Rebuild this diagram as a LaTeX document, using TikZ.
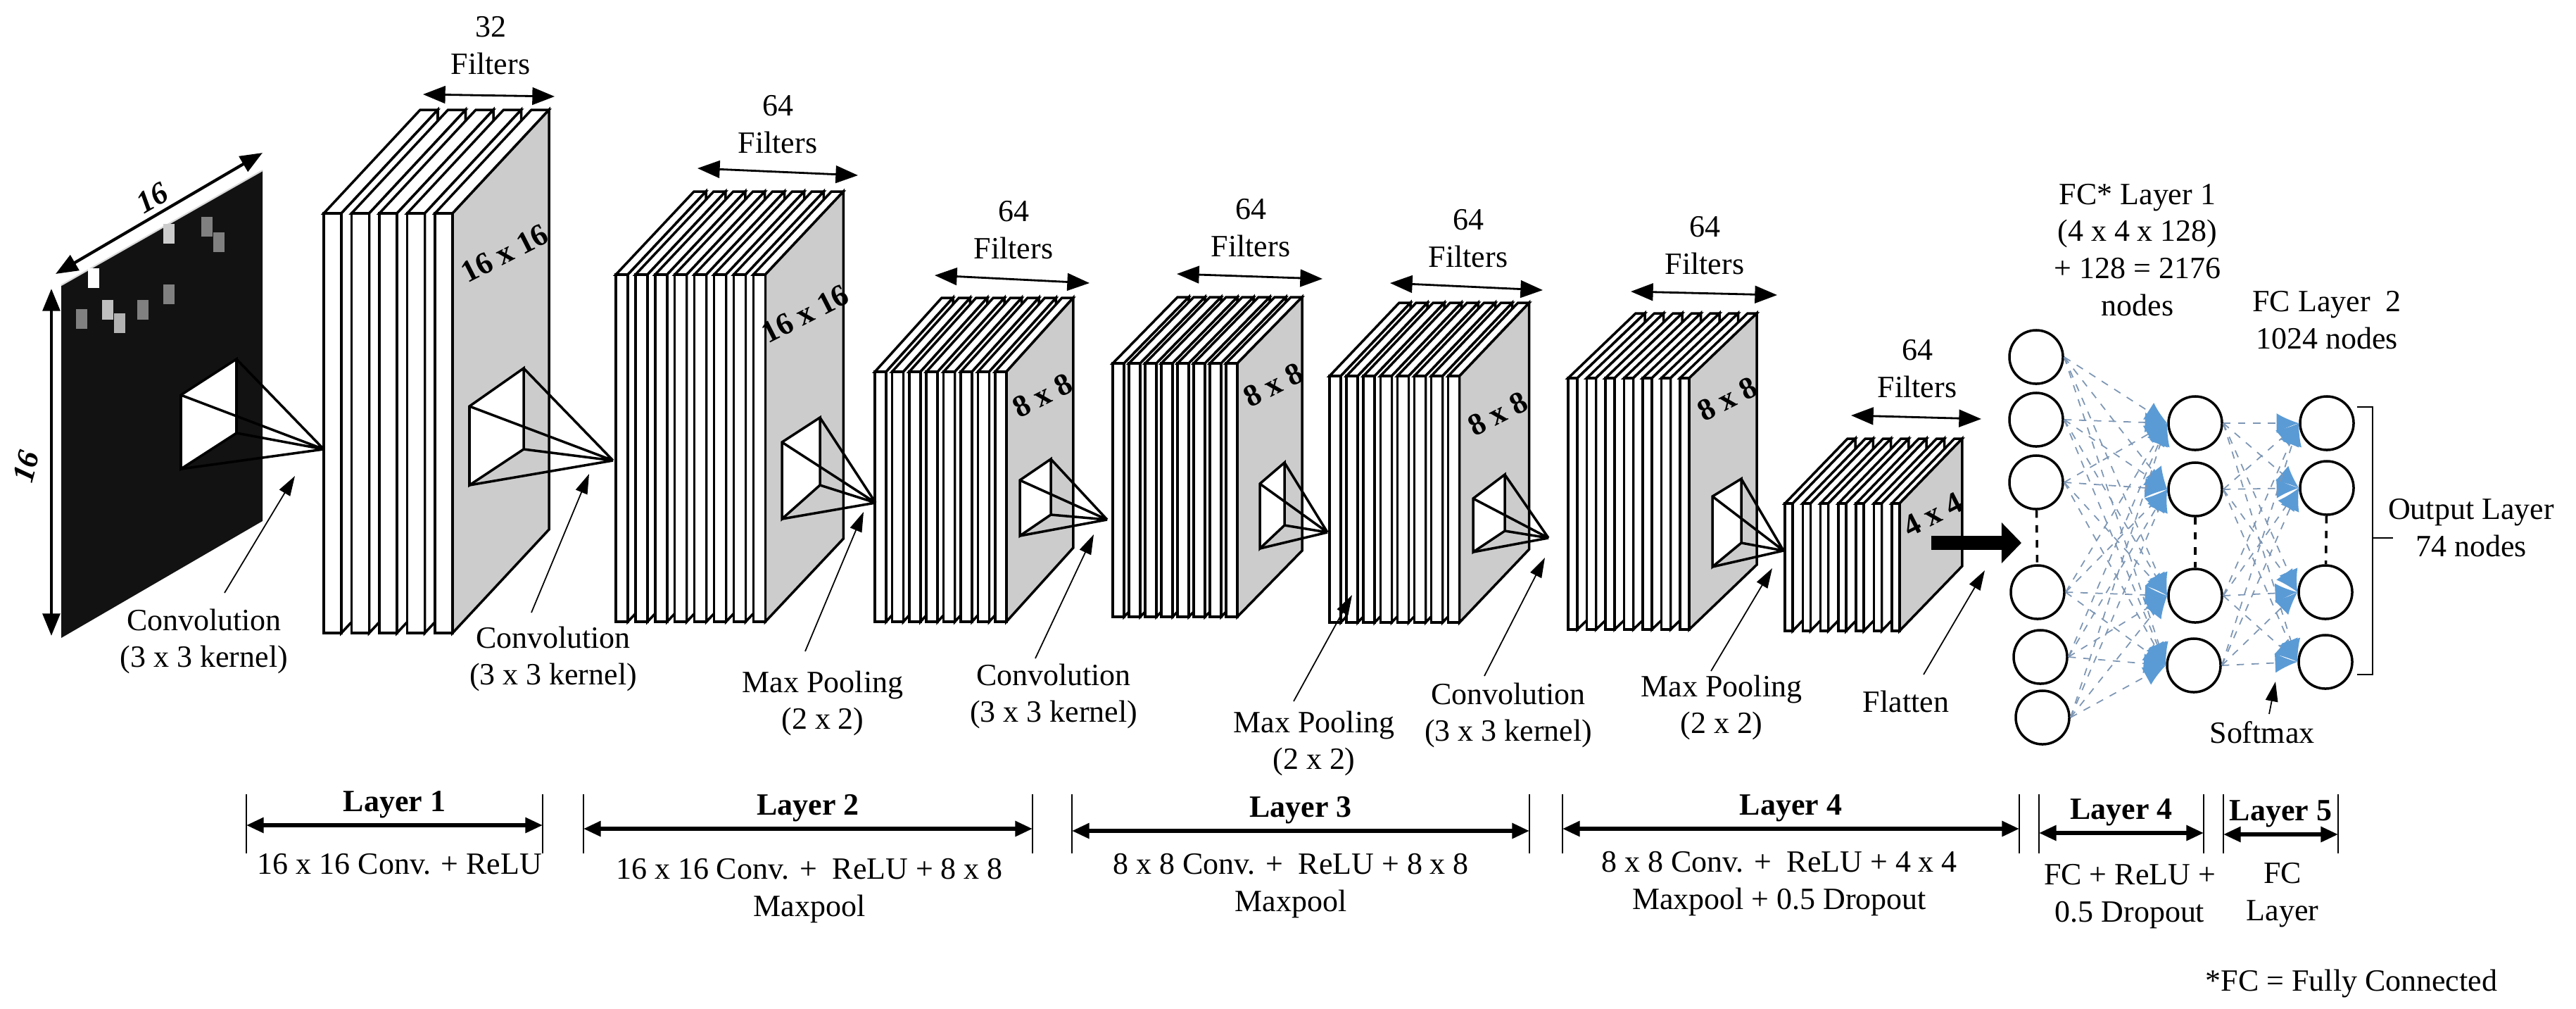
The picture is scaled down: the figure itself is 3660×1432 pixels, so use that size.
\documentclass[tikz,border=0pt]{standalone}
\usepackage{fontspec}
\setmainfont{Liberation Serif}
\usetikzlibrary{arrows.meta}
\definecolor{slabgray}{RGB}{204,204,204}
\definecolor{fcblue}{RGB}{91,155,213}
\definecolor{fcline}{RGB}{125,150,180}
\newcommand\slabstack[8]{%
 \foreach \i in {1,...,#4}{%
   \pgfmathsetmacro\xa{#1+(\i-1)*#5}%
   \pgfmathsetmacro\xb{\xa+#6}%
   \ifnum\i=#4 \def\sidecol{slabgray}\else\def\sidecol{white}\fi
   \filldraw[slab, fill=white] (\xa,#2) -- ++(#7,#8) -- ++(#6,0) -- (\xb,#2) -- cycle;
   \filldraw[slab, fill=\sidecol] (\xb,#2) -- ++(#7,#8) -- ++(0,{#3-#2}) -- (\xb,#3) -- cycle;
   \filldraw[slab, fill=white] (\xa,#2) rectangle (\xb,#3);
 }}
\newcommand\kernelpyr[5]{%
  \filldraw[slab, fill=white] #1 -- #2 -- #3 -- #4 -- cycle;
  \draw[slab] #1 -- #5 #2 -- #5 #3 -- #5 #4 -- #5;}
\begin{document}
\begin{tikzpicture}[x=0.01cm,y=-0.01cm,
  every node/.style={font=\fontsize{12.5}{15}\selectfont, inner sep=0pt},
  slab/.style={line width=1pt, line join=miter},
  dimarrow/.style={line width=0.8pt, {Triangle[length=9pt,width=7pt]}-{Triangle[length=9pt,width=7pt]}},
  lblarrow/.style={line width=0.5pt, -{Triangle[length=8pt,width=5pt]}},
  barrow/.style={line width=1.6pt, {Triangle[length=7pt,width=6pt]}-{Triangle[length=7pt,width=6pt]}},
  tick/.style={line width=0.6pt},
  sizelbl/.style={font=\fontsize{12.5}{15}\selectfont\bfseries, rotate=27},
  neuron/.style={circle, draw, line width=1pt, minimum size=0.76cm, fill=white},
  fcedge/.style={fcline, dashed, line width=0.5pt, -{Latex[length=9pt,width=8pt,color=fcblue]}},
  bartitle/.style={font=\fontsize{12.5}{15}\selectfont\bfseries},
  desc/.style={align=center}]
\useasboundingbox (0,0) rectangle (3660,1432);

% ---------- input image ----------
\fill[black!93] (87,405) -- (373,242) -- (373,740) -- (87,906) -- cycle;
\draw[white!85!black, line width=0.6pt] (87,405) -- (373,242);
\foreach \px/\py/\c in {133/395/white, 116/453/gray, 153/440/white!75!black, 170/459/white!70!black, 203/440/gray, 240/418/gray, 240/332/white!80!black, 294/322/gray, 311/344/gray}
  \fill[\c] (\px-8,\py-14) rectangle (\px+8,\py+14);
\kernelpyr{(257,561)}{(336,510)}{(336,615)}{(257,666)}{(460,638)}
\draw[dimarrow, line width=1.2pt] (79,389) -- (373,217);
\draw[dimarrow, line width=1.2pt] (73,410) -- (73,903);
\node[font=\fontsize{12.5}{15}\selectfont\bfseries\itshape, rotate=30] (in16a) at (216,281) {16};
\node[font=\fontsize{12.5}{15}\selectfont\bfseries\itshape, rotate=75] (in16b) at (37,663) {16};

% ---------- stacks ----------
\slabstack{460}{303}{899}{5}{39.5}{25}{137}{-147}
\slabstack{875}{390}{883}{8}{27.9}{17}{111}{-118}
\slabstack{1243}{528}{883}{8}{24.4}{16}{95}{-105}
\slabstack{1581}{516}{876}{8}{23}{16}{92}{-94}
\slabstack{1889}{534}{884}{8}{24.1}{16}{99}{-104}
\slabstack{2228}{537}{894}{7}{26.5}{13}{96}{-92}
\slabstack{2536}{715}{896}{7}{25.3}{11}{89}{-92}

\kernelpyr{(667,577)}{(744,523)}{(744,638)}{(667,689)}{(871,654)}
\kernelpyr{(1111,628)}{(1165,593)}{(1165,689)}{(1111,737)}{(1244,714)}
\kernelpyr{(1449,682)}{(1493,652)}{(1493,731)}{(1449,761)}{(1573,738)}
\kernelpyr{(1790,687)}{(1825,657)}{(1825,746)}{(1790,779)}{(1886,756)}
\kernelpyr{(2093,708)}{(2138,674)}{(2138,754)}{(2093,784)}{(2200,764)}
\kernelpyr{(2433,705)}{(2474,680)}{(2474,771)}{(2433,805)}{(2534,782)}

\node[sizelbl] (s1) at (717,360) {16 x 16};
\node[sizelbl] (s2) at (1144,446) {16 x 16};
\node[sizelbl] (s3) at (1481,562) {8 x 8};
\node[sizelbl] (s4) at (1809,547) {8 x 8};
\node[sizelbl] (s5) at (2128,588) {8 x 8};
\node[sizelbl] (s6) at (2454,567) {8 x 8};
\node[sizelbl] (s7) at (2746,731) {4 x 4};

% ---------- filter labels ----------
\foreach \n/\t/\lx/\ly/\ax/\ay/\bx/\by in {f1/32/697/65/601/134/788/137, f2/64/1105/177/991/239/1219/249, f3/64/1440/327/1328/391/1548/402, f4/64/1777/324/1672/389/1879/396, f5/64/2086/339/1975/402/2192/412, f6/64/2422/349/2317/414/2525/419, f7/64/2724/524/2630/590/2815/595}{
  \node[desc] (\n) at (\lx,\ly) {\t\\Filters};
  \coordinate (\n a) at (\ax,\ay);
  \coordinate (\n b) at (\bx,\by);
  \draw[dimarrow] (\n a) -- (\n b);
}

% ---------- operation labels ----------
\foreach \n/\t/\lx/\ly/\sx/\sy/\tx/\ty in {
  o1/{Convolution\\(3 x 3 kernel)}/290/911/319/842/419/676,
  o2/{Convolution\\(3 x 3 kernel)}/786/936/755/870/837/673,
  o3/{Max Pooling\\(2 x 2)}/1169/999/1144/925/1227/727,
  o4/{Convolution\\(3 x 3 kernel)}/1497/989/1471/935/1554/759,
  o5/{Max Pooling\\(2 x 2)}/1867/1056/1838/996/1921/845,
  o6/{Convolution\\(3 x 3 kernel)}/2143/1016/2109/960/2195/792,
  o7/{Max Pooling\\(2 x 2)}/2446/1005/2431/953/2518/807,
  o8/{Flatten}/2708/996/2733/958/2820/810,
  o9/{Softmax}/3214/1040/3224/1014/3233/968}{
  \node[desc] (\n) at (\lx,\ly) {\t};
  \coordinate (\n s) at (\sx,\sy);
  \coordinate (\n t) at (\tx,\ty);
  \draw[lblarrow] (\n s) -- (\n t);
}

% ---------- flatten arrow ----------
\coordinate (fa) at (2744,771);
\coordinate (fb) at (2872,771);
\draw[line width=5.7pt, -{Triangle[length=8pt,width=16pt]}] (fa) -- (fb);

% ---------- fully connected ----------
\foreach \n/\px/\py in {a1/2893/507, a2/2893/596, a3/2893/685, a4/2895/841, a5/2899/933, a6/2902/1019,
  b1/3119/601, b2/3119/695, b3/3119/846, b4/3117/945,
  c1/3306/601, c2/3306/693, c3/3304/841, c4/3304/940}
  \node[neuron] (\n) at (\px,\py) {};
\foreach \a in {1,...,6}
  \foreach \b in {1,...,4}
    \draw[fcedge] (a\a.east) -- (b\b.west);
\foreach \a in {1,...,4}
  \foreach \b in {1,...,4}
    \draw[fcedge] (b\a.east) -- (c\b.west);
\draw[dashed, line width=1pt] (a3) -- (a4);
\draw[dashed, line width=1pt] (b2) -- (b3);
\draw[dashed, line width=1pt] (c2) -- (c3);

\node[desc] (fc1) at (3037,355) {FC* Layer 1\\(4 x 4 x 128)\\+ 128 = 2176\\nodes};
\node[desc] (fc2) at (3306,455) {FC Layer\ \ 2\\1024 nodes};
\coordinate (br1) at (3349,578);
\coordinate (br2) at (3349,958);
\draw[line width=0.8pt] (br1) -- (3371,578) -- (3371,958) -- (br2);
\draw[line width=0.8pt] (3371,764) -- (3400,764);
\node[desc] (outl) at (3511,750) {Output Layer\\74 nodes};

% ---------- bottom bars ----------
\foreach \n/\xa/\xb/\y/\t in {l1/350/771/1172/Layer 1, l2/829/1467/1177/Layer 2, l3/1523/2173/1180/Layer 3, l4/2220/2869/1177/Layer 4, l5/2897/3131/1183/Layer 4, l6/3159/3322/1185/Layer 5}{
  \coordinate (\n a) at (\xa,\y);
  \coordinate (\n b) at (\xb,\y);
  \draw[tick] (\xa,1128) -- (\xa,1212);
  \draw[tick] (\xb,1128) -- (\xb,1212);
  \draw[barrow] (\n a) -- (\n b);
  \node[bartitle] (\n t) at ({(\xa+\xb)/2},{\y-29}) {\t};
}
\node[desc] (d1) at (568,1227) {16 x 16 Conv. + ReLU};
\node[desc] (d2) at (1150,1265) {16 x 16 Conv. +\ \ ReLU + 8 x 8\\Maxpool};
\node[desc] (d3) at (1834,1258) {8 x 8 Conv. +\ \ ReLU + 8 x 8\\Maxpool};
\node[desc] (d4) at (2528,1255) {8 x 8 Conv. +\ \ ReLU + 4 x 4\\Maxpool + 0.5 Dropout};
\node[desc] (d5) at (3026,1273) {FC + ReLU +\\0.5 Dropout};
\node[desc] (d6) at (3243,1271) {FC\\Layer};
\node (foot) at (3341,1397) {*FC = Fully Connected};
\end{tikzpicture}
\end{document}
